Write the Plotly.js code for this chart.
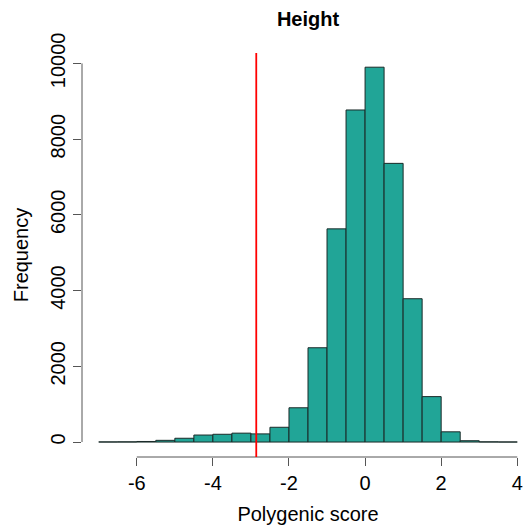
<!DOCTYPE html>
<html>
<head>
<meta charset="utf-8">
<script src="https://cdn.plot.ly/plotly-3.0.1.min.js"></script>
<style>
  html, body { margin: 0; padding: 0; overflow: hidden; background: #fff; }
  #chart { width: 534px; height: 532px; }
</style>
</head>
<body>
<div id="chart"></div>
<script>
// Histogram bins (lower edges, width 0.5) and counts
const binStarts = [-7, -6.5, -6, -5.5, -5, -4.5, -4, -3.5, -3, -2.5, -2, -1.5, -1, -0.5, 0, 0.5, 1, 1.5, 2, 2.5, 3, 3.5];
const counts    = [3, 5, 15, 45, 100, 185, 205, 235, 215, 390, 905, 2490, 5630, 8770, 9900, 7360, 3785, 1200, 270, 35, 5, 2];
const binWidth = 0.5;
const thresholdValue = -2.86;
const xTicks = [-6, -4, -2, 0, 2, 4];
const yTicks = [0, 2000, 4000, 6000, 8000, 10000];

const fontFamily = 'Liberation Sans, Arial, sans-serif';

const trace = {
  type: 'bar',
  x: binStarts,
  y: counts,
  width: binStarts.map(() => binWidth),
  offset: 0,
  marker: { color: '#21a597', line: { color: '#1a2a28', width: 1 } },
  hoverinfo: 'x+y'
};

const layout = {
  width: 534,
  height: 532,
  margin: { l: 82, r: 0, t: 53, b: 75 },
  paper_bgcolor: '#ffffff',
  plot_bgcolor: '#ffffff',
  showlegend: false,
  bargap: 0,
  font: { family: fontFamily, size: 20, color: '#000' },
  title: {
    text: '<b>Height</b>',
    font: { family: fontFamily, size: 20, color: '#000' },
    xref: 'paper', x: 0.5, xanchor: 'center',
    yref: 'container', y: 1 - 19 / 532, yanchor: 'middle'
  },
  xaxis: {
    range: [-7.44, 4.44],
    tickvals: xTicks,
    ticktext: xTicks.map(String),
    ticks: 'outside', ticklen: 8, tickwidth: 1, tickcolor: '#555',
    showline: false, showgrid: false, zeroline: false,
    tickfont: { family: fontFamily, size: 20, color: '#000' },
    title: { text: 'Polygenic score', font: { family: fontFamily, size: 20, color: '#000' }, standoff: 13 },
    fixedrange: true
  },
  yaxis: {
    range: [-395, 10275],
    tickvals: yTicks,
    ticktext: yTicks.map(String),
    tickangle: -90,
    ticks: 'outside', ticklen: 8, tickwidth: 1, tickcolor: '#555',
    showline: false, showgrid: false, zeroline: false,
    tickfont: { family: fontFamily, size: 20, color: '#000' },
    title: { text: 'Frequency', font: { family: fontFamily, size: 20, color: '#000' }, standoff: 13 },
    fixedrange: true
  },
  shapes: [
    // R-style axis lines spanning only the tick range
    { type: 'line', xref: 'x', yref: 'paper', x0: xTicks[0], x1: xTicks[xTicks.length - 1], y0: 0, y1: 0,
      line: { color: '#555', width: 1 } },
    { type: 'line', xref: 'paper', yref: 'y', x0: 0, x1: 0, y0: yTicks[0], y1: yTicks[yTicks.length - 1],
      line: { color: '#555', width: 1 } },
    // threshold line
    { type: 'line', xref: 'x', yref: 'paper', x0: thresholdValue, x1: thresholdValue, y0: 0, y1: 1,
      line: { color: '#ff0000', width: 1.8 } }
  ]
};

Plotly.newPlot('chart', [trace], layout, { displayModeBar: false, staticPlot: true });
</script>
</body>
</html>
